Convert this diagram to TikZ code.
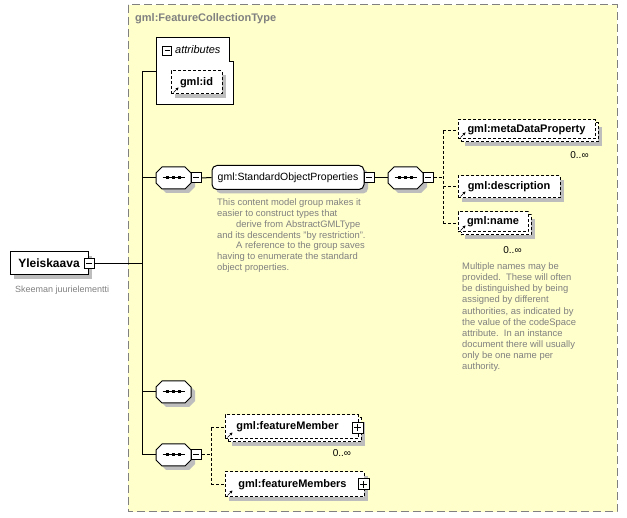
\documentclass[tikz,border=0pt]{standalone}
\usepackage{fontspec}
\setmainfont{Liberation Sans}
\usetikzlibrary{arrows.meta,calc}
\definecolor{bgyellow}{HTML}{FFFFCC}
\definecolor{shgray}{HTML}{BDBDBD}
\definecolor{txtgray}{HTML}{808080}
\definecolor{bordergray}{HTML}{808080}
\newcommand\seqoct[1]{%
  \begin{scope}[shift={(#1.center)}]
    \fill[shgray,shift={(4,4)}] (-17.5,-5) -- (-11.5,-11) -- (11.5,-11) -- (17.5,-5) -- (17.5,5) -- (11.5,11) -- (-11.5,11) -- (-17.5,5) -- cycle;
    \draw[line width=1pt,fill=white] (-17.5,-5) -- (-11.5,-11) -- (11.5,-11) -- (17.5,-5) -- (17.5,5) -- (11.5,11) -- (-11.5,11) -- (-17.5,5) -- cycle;
    \draw[line width=1pt] (-11,0) -- (11,0);
    \fill (-7.5,-1.5) rectangle (-4.5,1.5);
    \fill (-1.5,-1.5) rectangle (1.5,1.5);
    \fill (4.5,-1.5) rectangle (7.5,1.5);
  \end{scope}}
\newcommand\refarrow[1]{%
  \draw[-{Stealth[length=3pt,width=3pt]},line width=0.7pt] ($(#1.south west)+(3,-2)$) -- ++(5,-5);}
% shadow: centre x, centre y, width, height
\newcommand\shadowrect[5][]{%
  \fill[shgray,#1] ({#2-#4/2+4},{#3-#5/2+4}) rectangle ({#2+#4/2+4},{#3+#5/2+4});}
\tikzset{
  elem/.style={draw,fill=white,line width=1pt,inner sep=0pt,font=\fontsize{11}{13}\selectfont\bfseries},
  optl/.style={dash pattern=on 3pt off 2pt},
  conn/.style={line width=1pt},
  seqbox/.style={minimum width=35pt,minimum height=22pt,inner sep=0pt,draw=none},
  togminus/.style={draw,fill=white,line width=1pt,minimum size=10pt,inner sep=0pt,
    path picture={\draw[line width=1pt] ([xshift=2pt]path picture bounding box.west) -- ([xshift=-2pt]path picture bounding box.east);}},
  togplus/.style={togminus,
    path picture={\draw[line width=1pt] ([xshift=2pt]path picture bounding box.west) -- ([xshift=-2pt]path picture bounding box.east);
                  \draw[line width=1pt] ([yshift=-2pt]path picture bounding box.north) -- ([yshift=2pt]path picture bounding box.south);}},
  commenttxt/.style={text=txtgray,font=\fontsize{9.4}{10.9}\selectfont,inner sep=0pt},
  occ/.style={font=\fontsize{10}{12}\selectfont,inner sep=0pt},
}
\begin{document}
\begin{tikzpicture}[x=1pt,y=-1pt]
\useasboundingbox (0,0) rectangle (627,518);
% frame
\fill[bgyellow] (128,5) rectangle (617,512);
\draw[bordergray,line width=1pt,dash pattern=on 8pt off 4pt] (128,5) rectangle (617,512);
\node[anchor=west,text=txtgray,inner sep=0pt,font=\fontsize{11}{13}\selectfont\bfseries] (title) at (135,19) {gml:FeatureCollectionType};

% attributes
\draw[line width=1pt,fill=white] (156,38) -- (229,38) -- (229,62) -- (233,62) -- (233,105) -- (156,105) -- cycle;
\node[togminus,minimum size=9pt] (atog) at (167,51) {};
\node[anchor=west,inner sep=0pt,font=\fontsize{11}{13}\selectfont\itshape] (attrlbl) at (175,50) {attributes};
\shadowrect{196.5}{82.5}{51}{23}
\node[elem,optl,minimum width=51pt,minimum height=23pt] (gid) at (196.5,82.5) {gml:id};
\refarrow{gid}
\coordinate (attrw) at (156,72);

% root
\shadowrect{49}{263.5}{78}{23}
\node[elem,minimum width=78pt,minimum height=23pt,font=\fontsize{12}{14}\selectfont\bfseries] (root) at (49,263.5) {Yleiskaava};
\node[togminus] (rtog) at (89,263.5) {};
\node[commenttxt,anchor=west,font=\fontsize{9}{11}\selectfont] (rootdoc) at (15,290) {Skeeman juurielementti};

% trunk
\coordinate (vtop) at (142,72);
\coordinate (vbot) at (142,455);

% sequences
\node[seqbox] (sq1) at (173.5,178) {};
\seqoct{sq1}
\node[togminus] (t1) at (196,178) {};
\node[seqbox] (sq3) at (173.5,392) {};
\seqoct{sq3}
\node[seqbox] (sq4) at (173.5,455) {};
\seqoct{sq4}
\node[togminus] (t4) at (196,455) {};

% group
\shadowrect[rounded corners=5pt]{288}{177.5}{152}{24}
\node[draw,fill=white,line width=1pt,rounded corners=5pt,minimum width=152pt,minimum height=24pt,inner sep=0pt,font=\fontsize{10.5}{12}\selectfont] (grp) at (288,177.5) {gml:StandardObjectProperties};
\node[togminus] (tg) at (369,178) {};
\node[commenttxt,anchor=north west,align=left] (grpdoc) at (217,198.3) {This content model group makes it\\easier to construct types that\\\hspace*{19pt}derive from AbstractGMLType\\and its descendents "by restriction".\\\hspace*{19pt}A reference to the group saves\\having to enumerate the standard\\object properties.};

\node[seqbox] (sq2) at (405.5,178) {};
\seqoct{sq2}
\node[togminus] (t2) at (428,178) {};

% right elements
\shadowrect{529.5}{132.5}{137}{19}
\node[elem,optl,minimum width=137pt,minimum height=19pt] (mdpb) at (529.5,132.5) {};
\node[elem,optl,minimum width=137pt,minimum height=19pt] (mdp) at (526.5,129.5) {gml:metaDataProperty};
\refarrow{mdp}
\node[occ] (mdpocc) at (579.5,155) {0..∞};
\shadowrect{509}{187}{102}{22}
\node[elem,optl,minimum width=102pt,minimum height=22pt] (desc) at (509,187) {gml:description};
\refarrow{desc}
\shadowrect{496}{225}{70}{20}
\node[elem,optl,minimum width=70pt,minimum height=20pt] (namb) at (496,225) {};
\node[elem,optl,minimum width=70pt,minimum height=20pt] (nam) at (493,222) {gml:name};
\refarrow{nam}
\node[occ] (namocc) at (512.5,250) {0..∞};
\node[commenttxt,anchor=north west,align=left,font=\fontsize{9.4}{11.1}\selectfont] (namedoc) at (462,262.6) {Multiple names may be\\provided.\ \ These will often\\be distinguished by being\\assigned by different\\authorities, as indicated by\\the value of the codeSpace\\attribute.\ \ In an instance\\document there will usually\\only be one name per\\authority.};

% lower elements
\shadowrect{294.5}{430}{133}{24}
\node[elem,optl,minimum width=133pt,minimum height=24pt] (fmb) at (294.5,430) {};
\node[elem,optl,minimum width=133pt,minimum height=24pt] (fm) at (291.5,427) {gml:featureMember\hspace*{8pt}};
\refarrow{fm}
\node[togplus,minimum size=11pt] (fmp) at (357.5,428) {};
\node[occ] (fmocc) at (342,453) {0..∞};
\shadowrect{294.5}{484.5}{139}{25}
\node[elem,optl,minimum width=139pt,minimum height=25pt] (fms) at (294.5,484.5) {gml:featureMembers\hspace*{4pt}};
\refarrow{fms}
\node[togplus,minimum size=11pt] (fmsp) at (363.5,484.5) {};

% connectors
\draw[conn] (vtop) -- (vbot);
\draw[conn] (vtop) -- (attrw);
\draw[conn] (rtog.east) -- (rtog.east -| vtop);
\draw[conn] (sq1.west -| vtop) -- (sq1.west);
\draw[conn] (sq3.west -| vtop) -- (sq3.west);
\draw[conn] (sq4.west -| vtop) -- (sq4.west);
\draw[conn] (t1.east) -- (grp.west);
\draw[conn] (tg.east) -- (sq2.west);
\coordinate (j1) at (443,178);
\coordinate (jt) at (443,131);
\coordinate (jb) at (443,224);
\draw[conn,optl] (t2.east) -- (j1);
\draw[conn,optl] (jt) -- (jb);
\draw[conn,optl] (jt) -- (jt -| mdp.west);
\draw[conn,optl] (desc.west -| jt) -- (desc.west);
\draw[conn,optl] (jb) -- (jb -| nam.west);
\coordinate (k1) at (211,455);
\coordinate (kt) at (211,428);
\coordinate (kb) at (211,484.5);
\draw[conn,optl] (t4.east) -- (k1);
\draw[conn,optl] (kt) -- (kb);
\draw[conn,optl] (kt) -- (kt -| fm.west);
\draw[conn,optl] (kb) -- (fms.west);
\end{tikzpicture}
\end{document}
